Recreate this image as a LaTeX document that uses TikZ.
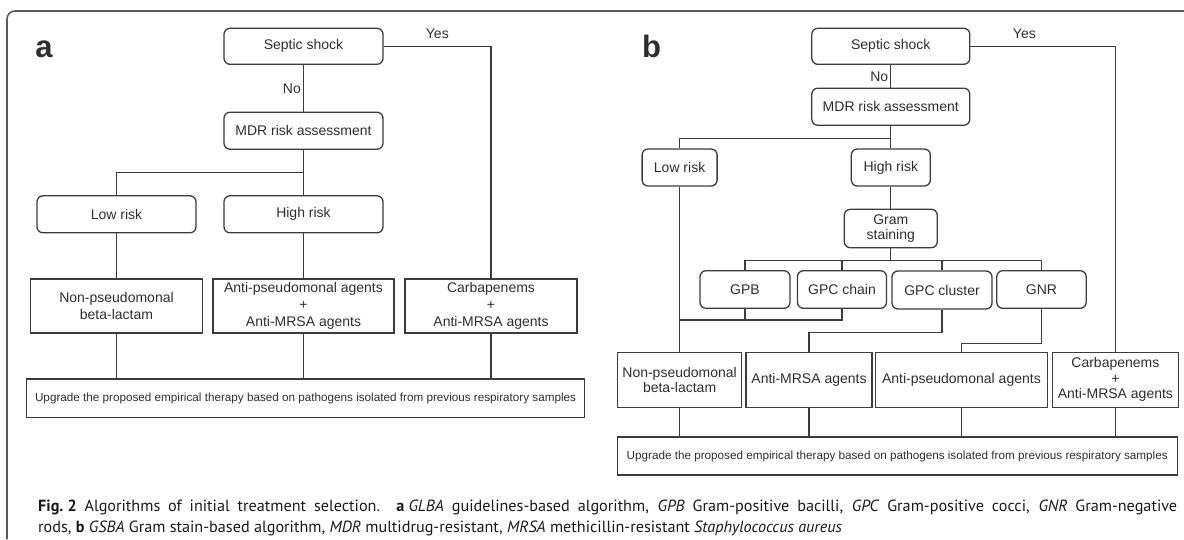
\documentclass[tikz,border=0pt]{standalone}
\usepackage{fontspec}
\setmainfont{Liberation Sans}
\newfontfamily\capfont{PT Sans}
\usetikzlibrary{positioning}
\definecolor{boxgray}{HTML}{3C3C3C}
\definecolor{txtgray}{HTML}{2E2E2E}
\definecolor{framegray}{HTML}{5A5A5A}

\tikzset{
  rbox/.style={draw=boxgray, line width=1.3pt, rounded corners=6pt, inner sep=0pt, align=center, text=txtgray, font=\fontsize{14}{17}\selectfont},
  sbox/.style={draw=boxgray, line width=1.3pt, inner sep=0pt, align=center, text=txtgray, font=\fontsize{14}{17}\selectfont},
  tight/.style={font=\fontsize{14}{15.5}\selectfont},
  wide/.style={sbox, font=\fontsize{11.7}{14}\selectfont},
  link/.style={draw=boxgray, line width=1.3pt},
  lab/.style={text=txtgray, font=\fontsize{14}{17}\selectfont, inner sep=2pt},
  panel/.style={anchor=base, text=txtgray, inner sep=0pt, font=\bfseries\fontsize{31}{31}\selectfont},
  caption/.style={anchor=base west, inner sep=0pt, text=black!90, font=\capfont\fontsize{16.2}{21}\selectfont},
}

\begin{document}
\begin{tikzpicture}[x=1pt, y=-1pt]
        \useasboundingbox (0,0) rectangle (1184,539);
        \draw[framegray, line width=1.6pt, rounded corners=8pt] (7,539) -- (7,11) -- (1184,11);

        % Nodes (a)
        \node[panel] (labA) at (44,57) {a};
        \node[rbox, minimum width=159pt, minimum height=36pt] (shockA) at (303.5,46.3) {Septic shock};
        \node[rbox, minimum width=159pt, minimum height=37pt] (mdrA) at (303.5,130.7) {MDR risk assessment};
        \node[rbox, minimum width=159pt, minimum height=37pt] (lowA) at (116.5,214.3) {Low risk};
        \node[rbox, minimum width=159pt, minimum height=37pt] (highA) at (303.5,214.3) {High risk};
        \node[sbox, minimum width=172pt, minimum height=54pt] (nonA) at (116.5,306) {Non-pseudomonal\\beta-lactam};
        \node[sbox, minimum width=181pt, minimum height=54pt] (antiA) at (303.5,306) {Anti-pseudomonal agents\\+\\Anti-MRSA agents};
        \node[sbox, minimum width=172pt, minimum height=54pt] (carbA) at (491,306) {Carbapenems\\+\\Anti-MRSA agents};
        \node[wide, minimum width=557.6pt, minimum height=38.7pt] (upgA) at (305.6,398.3) {Upgrade the proposed empirical therapy based on pathogens isolated from previous respiratory samples};

        % Edges (a)
        \draw[link] (shockA) -- node[lab, left] {No} (mdrA);
        \draw[link] (shockA.east) -| node[lab, above=5pt, pos=0.25] {Yes} (carbA.north);
        \draw[link] (mdrA) -- (highA);
        \draw[link] (mdrA.south) -- ++(0,22.7) -| (lowA.north);
        \draw[link] (lowA) -- (nonA);
        \draw[link] (highA) -- (antiA);
        \foreach \n in {nonA, antiA, carbA}
          \draw[link] (\n.south) -- (\n.south |- upgA.north);

        % Nodes (b)
        \node[panel] (labB) at (651.5,57) {b};
        \node[rbox, minimum width=158pt, minimum height=36pt] (shockB) at (890.8,46.3) {Septic shock};
        \node[rbox, minimum width=158pt, minimum height=37pt] (mdrB) at (890.8,106.7) {MDR risk assessment};
        \node[rbox, minimum width=75pt, minimum height=37pt] (lowB) at (679.6,167.5) {Low risk};
        \node[rbox, minimum width=79pt, minimum height=37pt] (highB) at (890.8,167.5) {High risk};
        \node[rbox, tight, minimum width=93pt, minimum height=38.4pt] (gramB) at (890.8,228.5) {Gram\\staining};
        \node[rbox, minimum width=90pt, minimum height=37.6pt] (gpbB) at (745,289.5) {GPB};
        \node[rbox, minimum width=89pt, minimum height=37.6pt] (chainB) at (842,289.5) {GPC chain};
        \node[rbox, minimum width=100pt, minimum height=38pt] (clusB) at (942,290) {GPC cluster};
        \node[rbox, minimum width=89.4pt, minimum height=37.6pt] (gnrB) at (1041.5,289.5) {GNR};
        \node[sbox, tight, minimum width=124.3pt, minimum height=55pt] (nonB) at (679.6,379.8) {Non-pseudomonal\\beta-lactam};
        \node[sbox, tight, minimum width=126pt, minimum height=55pt] (mrsaB) at (809,379.8) {Anti-MRSA agents};
        \node[sbox, tight, minimum width=172.4pt, minimum height=55pt] (pseuB) at (961.4,379.8) {Anti-pseudomonal agents};
        \node[sbox, tight, minimum width=125.8pt, minimum height=55pt] (carbB) at (1115.4,379.8) {Carbapenems\\+\\Anti-MRSA agents};
        \node[wide, minimum width=560pt, minimum height=38pt] (upgB) at (897.2,456) {Upgrade the proposed empirical therapy based on pathogens isolated from previous respiratory samples};

        % Edges (b)
        \draw[link] (shockB) -- node[lab, left] {No} (mdrB);
        \draw[link] (shockB.east) -| node[lab, above=5pt, pos=0.186] {Yes} (carbB.north);
        \draw[link] (mdrB) -- (highB);
        \draw[link] (mdrB.south) -- ++(0,12.3) -| (lowB.north);
        \draw[link] (lowB) -- (nonB);
        \draw[link] (highB) -- (gramB);
        \foreach \g in {gpbB, chainB, clusB, gnrB}
          \draw[link] (gramB.south) -- ++(0,12.3) -| (\g.north);
        \draw[link] (gpbB.south) -- ++(0,11) -| (nonB.north);
        \draw[link] (chainB.south) -- ++(0,11) -| (nonB.north);
        \draw[link] (clusB.south) -- ++(0,22.7) -| (mrsaB.north);
        \draw[link] (gnrB.south) -- ++(0,34.4) -| (pseuB.north);
        \foreach \n in {nonB, mrsaB, pseuB, carbB}
          \draw[link] (\n.south) -- (\n.south |- upgB.north);

        % Caption
        \node[caption] (capA) at (38,511.7) {\makebox[1139pt][s]{\textbf{Fig.\kern0.25em2} Algorithms of initial treatment selection. \textbf{a}\kern0.25em\textit{GLBA} guidelines-based algorithm, \textit{GPB} Gram-positive bacilli, \textit{GPC} Gram-positive cocci, \textit{GNR} Gram-negative}};
        \node[caption] (capB) at (38,532.5) {rods, \textbf{b} \textit{GSBA} Gram stain-based algorithm, \textit{MDR} multidrug-resistant, \textit{MRSA} methicillin-resistant \textit{Staphylococcus aureus}};
\end{tikzpicture}
\end{document}
